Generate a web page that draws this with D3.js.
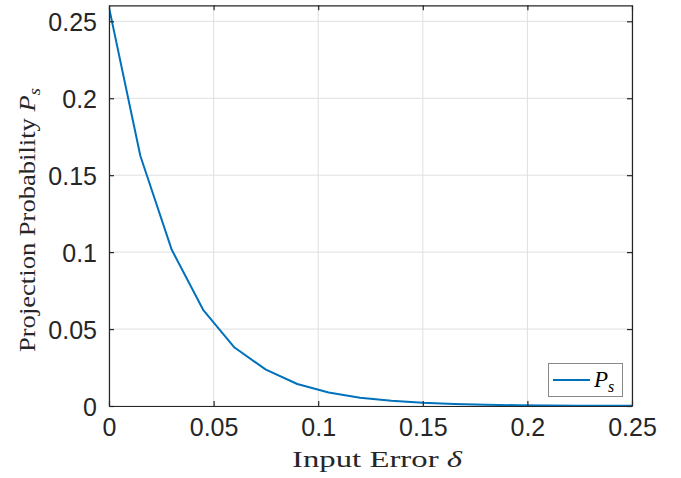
<!DOCTYPE html>
<html><head><meta charset="utf-8">
<script src="https://cdn.jsdelivr.net/npm/d3@7"></script>
<style>body{margin:0;background:#fff}svg{display:block}</style>
</head><body>
<script>
const xValues = [0, 0.015, 0.03, 0.045, 0.06, 0.075, 0.09, 0.105, 0.12, 0.135, 0.15, 0.165, 0.18, 0.195, 0.21, 0.225, 0.24, 0.255];
const psValues = [0.259, 0.1625, 0.1015, 0.0625, 0.038, 0.0236, 0.0143, 0.0088, 0.0054, 0.0034, 0.0021, 0.0013, 0.0008, 0.0005, 0.0003, 0.0002, 0.0001, 0.0001];
const xTicks = [0, 0.05, 0.1, 0.15, 0.2, 0.25];
const xTickLabels = ["0", "0.05", "0.1", "0.15", "0.2", "0.25"];
const yTicks = [0, 0.05, 0.1, 0.15, 0.2, 0.25];
const yTickLabels = ["0", "0.05", "0.1", "0.15", "0.2", "0.25"];

const W = 681, H = 478;
const L = 109, R = 632, T = 5.3, B = 406;
const svg = d3.select("body").append("svg").attr("width", W).attr("height", H);
const x = d3.scaleLinear().domain([0, 0.25]).range([L, R]);
const y = d3.scaleLinear().domain([0, 0.2604]).range([B, T]);
const axisColor = "#262626";
const tickFont = "'Liberation Sans', Arial, Helvetica, sans-serif";
const serif = "'Liberation Serif', 'Times New Roman', serif";

// grid
const g = svg.append("g");
g.selectAll("line.gx").data(xTicks).join("line")
  .attr("x1", d => x(d)).attr("x2", d => x(d)).attr("y1", T).attr("y2", B)
  .attr("stroke", "#dfdfdf").attr("stroke-width", 1);
g.selectAll("line.gy").data(yTicks).join("line")
  .attr("y1", d => y(d)).attr("y2", d => y(d)).attr("x1", L).attr("x2", R)
  .attr("stroke", "#dfdfdf").attr("stroke-width", 1);

// data line
svg.append("clipPath").attr("id", "clip").append("rect")
  .attr("x", L).attr("y", T - 2).attr("width", R - L).attr("height", B - T + 2);
const line = d3.line().x((d, i) => x(xValues[i])).y(d => y(d));
svg.append("path").datum(psValues).attr("d", line)
  .attr("fill", "none").attr("stroke", "#0072BD").attr("stroke-width", 2)
  .attr("stroke-linejoin", "round").attr("clip-path", "url(#clip)");

// axes (ticks inside, box on)
const tl = 5;
const axB = d3.axisBottom(x).tickValues(xTicks).tickFormat((d, i) => xTickLabels[i]).tickSizeInner(-tl).tickSizeOuter(0).tickPadding(12);
const axT = d3.axisTop(x).tickValues(xTicks).tickFormat("").tickSizeInner(-tl).tickSizeOuter(0);
const axLft = d3.axisLeft(y).tickValues(yTicks).tickFormat((d, i) => yTickLabels[i]).tickSizeInner(-tl).tickSizeOuter(0).tickPadding(12);
const axRt = d3.axisRight(y).tickValues(yTicks).tickFormat("").tickSizeInner(-tl).tickSizeOuter(0);

function style(sel) {
  sel.select(".domain").attr("stroke", axisColor).attr("stroke-width", 1.2);
  sel.selectAll(".tick line").attr("stroke", axisColor).attr("stroke-width", 1.2);
  sel.selectAll(".tick text").attr("fill", axisColor).style("font-family", tickFont).style("font-size", "25px");
  return sel;
}
style(svg.append("g").attr("transform", `translate(0,${B})`).call(axB));
style(svg.append("g").attr("transform", `translate(0,${T})`).call(axT));
style(svg.append("g").attr("transform", `translate(${L},0)`).call(axLft)).selectAll(".tick text").attr("dy", "0.36em");
style(svg.append("g").attr("transform", `translate(${R},0)`).call(axRt));

// x label
const xl = svg.append("text").attr("x", 292).attr("y", 467)
  .attr("fill", axisColor).style("font-family", serif).style("font-size", "23px")
  .attr("textLength", 170).attr("lengthAdjust", "spacingAndGlyphs");
xl.append("tspan").text("Input Error ");
xl.append("tspan").style("font-style", "italic").text("δ");

// y label
const yl = svg.append("text").attr("transform", "translate(35,352) rotate(-90)")
  .attr("fill", axisColor).style("font-family", serif).style("font-size", "23px")
  .attr("textLength", 264).attr("lengthAdjust", "spacingAndGlyphs");
yl.append("tspan").text("Projection Probability ");
yl.append("tspan").style("font-style", "italic").text("P");
yl.append("tspan").style("font-style", "italic").style("font-size", "16px").attr("dy", 5).text("s");

// legend
const lg = svg.append("g");
lg.append("rect").attr("x", 548.5).attr("y", 363.5).attr("width", 74).attr("height", 33)
  .attr("fill", "#fff").attr("stroke", "#8a8a8a").attr("stroke-width", 1);
lg.append("line").attr("x1", 553).attr("x2", 590).attr("y1", 380).attr("y2", 380)
  .attr("stroke", "#0072BD").attr("stroke-width", 2);
const lt = lg.append("text").attr("x", 594).attr("y", 387)
  .attr("fill", "#000").style("font-family", serif).style("font-size", "23px");
lt.append("tspan").style("font-style", "italic").text("P");
lt.append("tspan").style("font-style", "italic").style("font-size", "16px").attr("dy", 5).text("s");
</script>
</body></html>
